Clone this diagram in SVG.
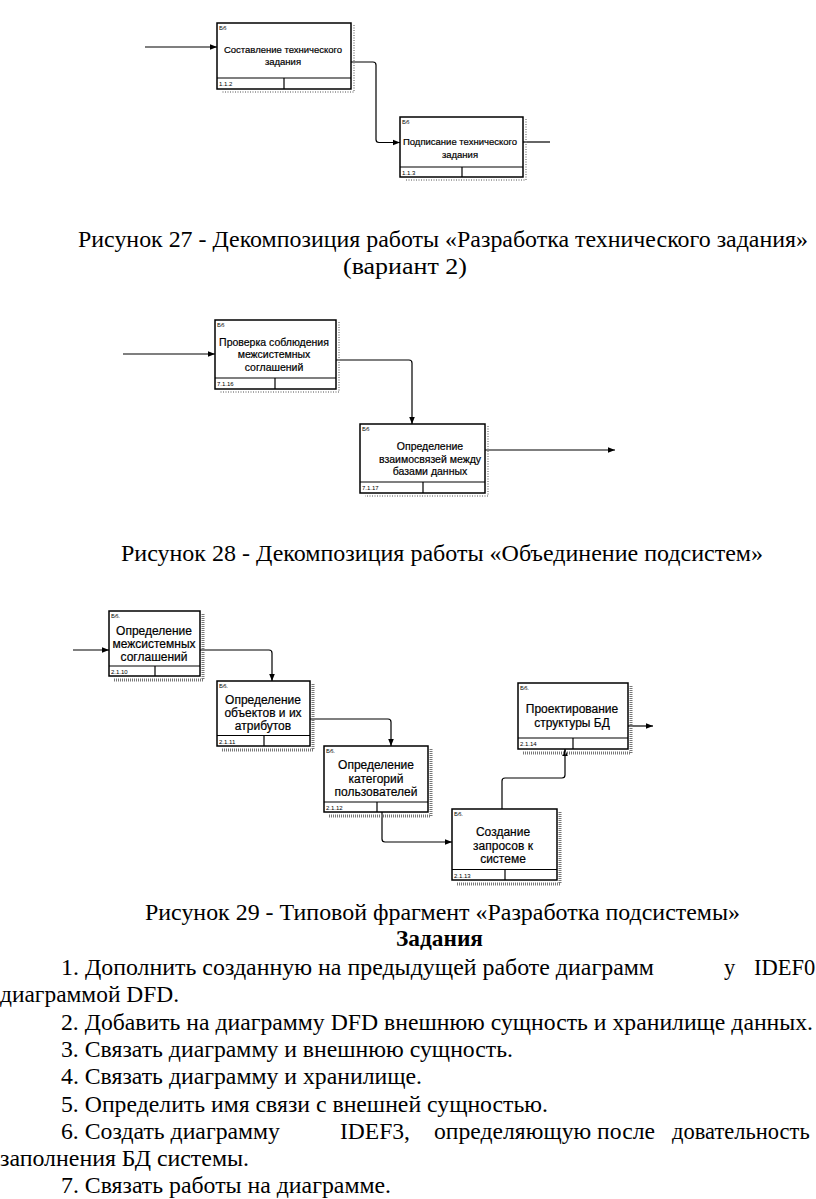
<svg xmlns="http://www.w3.org/2000/svg" width="816" height="1199" viewBox="0 0 816 1199">
<defs>
<marker id="ah" viewBox="0 0 10 10" refX="10" refY="5" markerWidth="7" markerHeight="7" markerUnits="userSpaceOnUse" orient="auto">
<path d="M0,1 L10,5 L0,9 Z" fill="#000"/>
</marker>
</defs>
<style>
.bx{fill:#fff;stroke:#000;stroke-width:1.5}
.ln{fill:none;stroke:#000;stroke-width:1.2}
.sh{fill:none;stroke:#8a8a8a;stroke-width:1.5;stroke-dasharray:1 1.5}
.sh2{fill:none;stroke:#777;stroke-width:3;stroke-dasharray:1 1}
.t{font-family:'Liberation Sans',Arial,sans-serif;fill:#000;text-anchor:middle;stroke:#000;stroke-width:0.2}
.t27{font-size:9.5px}
.t28{font-size:10.5px}
.t29{font-size:12px}
.id{font-family:'Liberation Sans',Arial,sans-serif;font-size:6px;fill:#000}
.cn{font-family:'Liberation Sans',Arial,sans-serif;font-size:6px;fill:#000}
.cap{font-size:23px;fill:#000}
.body{font-size:22.5px;fill:#000}
</style>

<g id="connectors">
<path class="ln" d="M145,47 H217" marker-end="url(#ah)"/>
<path class="ln" d="M351,62 H373 Q376,62 376,65 V139.5 Q376,142.5 379,142.5 H400" marker-end="url(#ah)"/>
<path class="ln" d="M523,142 H550"/>

<path class="ln" d="M123,354 H215" marker-end="url(#ah)"/>
<path class="ln" d="M336,360 H409 Q412,360 412,363 V424" marker-end="url(#ah)"/>
<path class="ln" d="M485,450 H615" marker-end="url(#ah)"/>

<path class="ln" d="M73,650 H109" marker-end="url(#ah)"/>
<path class="ln" d="M200,650 H269 Q272,650 272,653 V681" marker-end="url(#ah)"/>
<path class="ln" d="M310,719 H388 Q391,719 391,722 V746" marker-end="url(#ah)"/>
<path class="ln" d="M382,812 V839 Q382,842 385,842 H452" marker-end="url(#ah)"/>
<path class="ln" d="M502,809 V781 Q502,778 505,778 H562 Q565,778 565,775 V749" marker-end="url(#ah)"/>
<path class="ln" d="M628,726 H653" marker-end="url(#ah)"/>
</g>

<g id="node-1-1-2">
<path class="sh" d="M354,25 V92 H222"/>
<rect class="bx" x="217" y="23" width="134" height="66"/>
<path class="ln" d="M217,78 H351 M284,78 V89"/>
<text class="cn" x="219" y="30">Бб</text>
<text class="id" x="219" y="86">1.1.2</text>
<text class="t t27" x="283" y="52.5">Составление технического</text>
<text class="t t27" x="283" y="65">задания</text>
</g>

<g id="node-1-1-3">
<path class="sh" d="M526,119 V180 H405"/>
<rect class="bx" x="400" y="117" width="123" height="60"/>
<path class="ln" d="M400,167 H523 M462,167 V177"/>
<text class="cn" x="402" y="124">Бб</text>
<text class="id" x="402" y="175">1.1.3</text>
<text class="t t27" x="460" y="145">Подписание технического</text>
<text class="t t27" x="460" y="157.5">задания</text>
</g>

<g id="node-7-1-16">
<path class="sh" d="M339,322 V392 H220"/>
<rect class="bx" x="215" y="320" width="121" height="69"/>
<path class="ln" d="M215,378 H336 M275,378 V389"/>
<text class="cn" x="217" y="327">Бб</text>
<text class="id" x="217" y="386">7.1.16</text>
<text class="t t28" x="274" y="345.5">Проверка соблюдения</text>
<text class="t t28" x="274" y="358">межсистемных</text>
<text class="t t28" x="274" y="370.5">соглашений</text>
</g>

<g id="node-7-1-17">
<path class="sh" d="M488,426 V496 H365"/>
<rect class="bx" x="360" y="424" width="125" height="69"/>
<path class="ln" d="M360,482 H485 M423,482 V493"/>
<text class="cn" x="362" y="431">Бб</text>
<text class="id" x="362" y="490">7.1.17</text>
<text class="t t28" x="430" y="450">Определение</text>
<text class="t t28" x="430" y="462.5">взаимосвязей между</text>
<text class="t t28" x="430" y="475">базами данных</text>
</g>

<g id="node-2-1-10">
<path class="sh2" d="M203,614 V680 H114"/>
<rect class="bx" x="109" y="611" width="91" height="65"/>
<path class="ln" d="M109,666 H200 M155,666 V676"/>
<text class="cn" x="111" y="618">Бб.</text>
<text class="id" x="111" y="674">2.1.10</text>
<text class="t t29" x="154" y="635">Определение</text>
<text class="t t29" x="154" y="647.5">межсистемных</text>
<text class="t t29" x="154" y="660.5">соглашений</text>
</g>

<g id="node-2-1-11">
<path class="sh2" d="M313,684 V750 H222"/>
<rect class="bx" x="217" y="681" width="93" height="65"/>
<path class="ln" d="M217,735.5 H310 M264,735.5 V746"/>
<text class="cn" x="219" y="688">Бб.</text>
<text class="id" x="219" y="744">2.1.11</text>
<text class="t t29" x="263" y="704">Определение</text>
<text class="t t29" x="263" y="716.5">объектов и их</text>
<text class="t t29" x="263" y="730">атрибутов</text>
</g>

<g id="node-2-1-12">
<path class="sh2" d="M431,749 V816 H329"/>
<rect class="bx" x="324" y="746" width="104" height="66"/>
<path class="ln" d="M324,802 H428 M377,802 V812"/>
<text class="cn" x="326" y="753">Бб.</text>
<text class="id" x="326" y="810">2.1.12</text>
<text class="t t29" x="376" y="769">Определение</text>
<text class="t t29" x="376" y="782.5">категорий</text>
<text class="t t29" x="376" y="796">пользователей</text>
</g>

<g id="node-2-1-13">
<path class="sh2" d="M560,812 V884 H457"/>
<rect class="bx" x="452" y="809" width="105" height="71"/>
<path class="ln" d="M452,869.5 H557 M505,869.5 V880"/>
<text class="cn" x="454" y="816">Бб.</text>
<text class="id" x="454" y="878">2.1.13</text>
<text class="t t29" x="503" y="836">Создание</text>
<text class="t t29" x="503" y="849.5">запросов к</text>
<text class="t t29" x="503" y="863">системе</text>
</g>

<g id="node-2-1-14">
<path class="sh2" d="M631,686 V753 H523"/>
<rect class="bx" x="518" y="683" width="110" height="66"/>
<path class="ln" d="M518,738 H628 M573,738 V749"/>
<text class="cn" x="520" y="690">Бб.</text>
<text class="id" x="520" y="746">2.1.14</text>
<text class="t t29" x="572" y="713">Проектирование</text>
<text class="t t29" x="572" y="726.5">структуры БД</text>
</g>

<g id="captions" font-family="'Liberation Serif', 'Times New Roman', 'DejaVu Serif', serif">
<text class="cap" x="78" y="247" textLength="730" lengthAdjust="spacingAndGlyphs">Рисунок 27 - Декомпозиция работы «Разработка технического задания»</text>
<text class="cap" x="343" y="274" textLength="124" lengthAdjust="spacingAndGlyphs">(вариант 2)</text>
<text class="cap" x="121" y="561" textLength="642" lengthAdjust="spacingAndGlyphs">Рисунок 28 - Декомпозиция работы «Объединение подсистем»</text>
<text class="cap" x="145" y="920" textLength="595" lengthAdjust="spacingAndGlyphs">Рисунок 29 - Типовой фрагмент «Разработка подсистемы»</text>
<text class="cap" x="396" y="946" font-weight="bold" textLength="87" lengthAdjust="spacingAndGlyphs">Задания</text>
</g>

<g id="tasks" font-family="'Liberation Serif', 'Times New Roman', 'DejaVu Serif', serif">
<text class="body" x="61" y="975" textLength="593" lengthAdjust="spacingAndGlyphs">1. Дополнить созданную на предыдущей работе диаграмм</text>
<text class="body" x="724" y="975">у</text>
<text class="body" x="754" y="975">IDEF0</text>
<text class="body" x="0" y="1002.3" textLength="179" lengthAdjust="spacingAndGlyphs">диаграммой DFD.</text>
<text class="body" x="61" y="1029.6" textLength="752" lengthAdjust="spacingAndGlyphs">2. Добавить на диаграмму DFD внешнюю сущность и хранилище данных.</text>
<text class="body" x="61" y="1056.9" textLength="452" lengthAdjust="spacingAndGlyphs">3. Связать диаграмму и внешнюю сущность.</text>
<text class="body" x="61" y="1084.2" textLength="361" lengthAdjust="spacingAndGlyphs">4. Связать диаграмму и хранилище.</text>
<text class="body" x="61" y="1111.5" textLength="487" lengthAdjust="spacingAndGlyphs">5. Определить имя связи с внешней сущностью.</text>
<text class="body" x="61" y="1138.8" textLength="219" lengthAdjust="spacingAndGlyphs">6. Создать диаграмму</text>
<text class="body" x="340" y="1138.8" textLength="70" lengthAdjust="spacingAndGlyphs">IDEF3,</text>
<text class="body" x="434" y="1138.8" textLength="221" lengthAdjust="spacingAndGlyphs">определяющую после</text>
<text class="body" x="672" y="1138.8">довательность</text>
<text class="body" x="0" y="1166.1" textLength="249" lengthAdjust="spacingAndGlyphs">заполнения БД системы.</text>
<text class="body" x="61" y="1193.4" textLength="330" lengthAdjust="spacingAndGlyphs">7. Связать работы на диаграмме.</text>
</g>
</svg>
